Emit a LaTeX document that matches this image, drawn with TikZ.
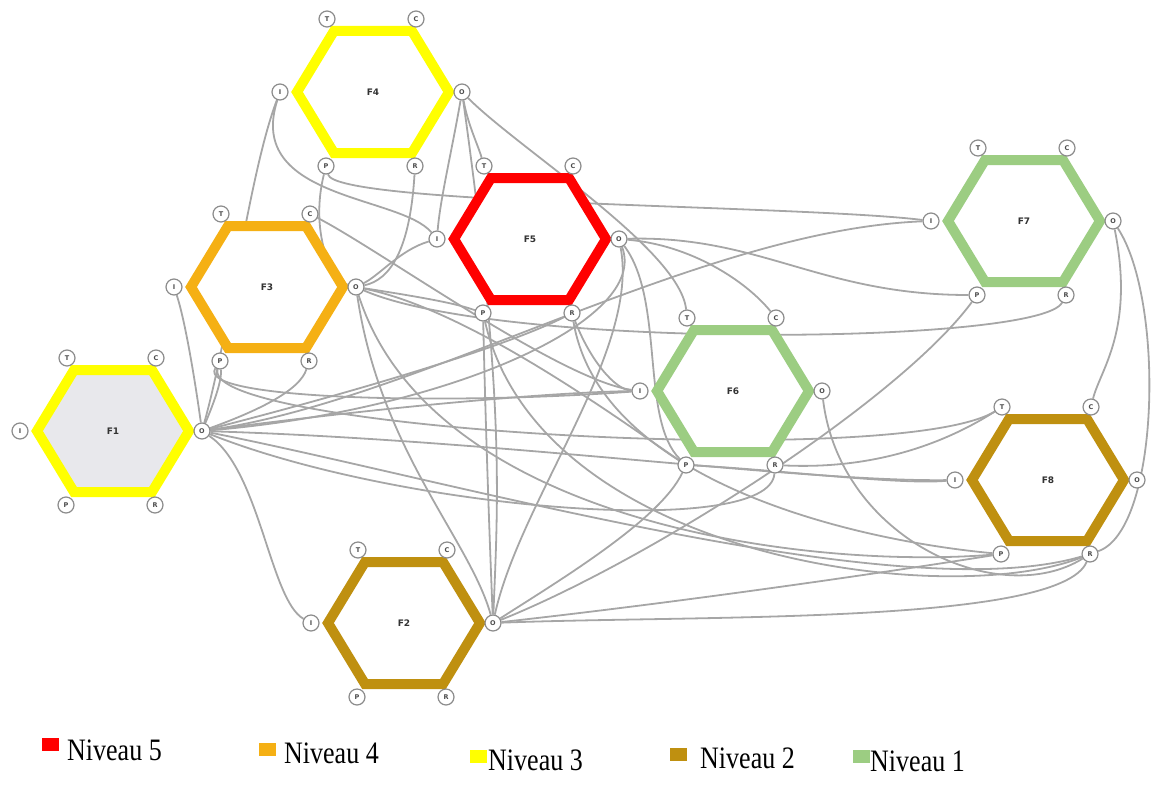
\documentclass[tikz,border=0pt]{standalone}
\usepackage{fontspec}
\setmainfont{Liberation Serif}
\setsansfont{DejaVu Sans}
\usetikzlibrary{calc}
\definecolor{lvlfive}{HTML}{FF0000}
\definecolor{lvlfour}{HTML}{F5B014}
\definecolor{lvlthree}{HTML}{FFFF00}
\definecolor{lvltwo}{HTML}{BF9010}
\definecolor{lvlone}{HTML}{9CCD82}
\definecolor{linkgray}{HTML}{A6A6A6}
\definecolor{portgray}{HTML}{8C8C8C}
\definecolor{hexfill}{HTML}{E8E8EC}
\pgfdeclarelayer{links}
\pgfsetlayers{links,main}

% one FRAM function: hexagon, label and its six aspects
\newcommand{\framfn}[5]{% name, x, y, colour, fill
  \draw[hexline, draw=#4, fill=#5, shift={(#2,#3)}]
    (-76,0) -- (-39,-61) -- (39,-61) -- (76,0) -- (39,61) -- (-39,61) -- cycle;
  \node[hexlabel] (#1) at (#2,#3) {#1};
  \node[port] (#1T) at ({#2-46},{#3-73}) {T};
  \node[port] (#1C) at ({#2+43},{#3-73}) {C};
  \node[port] (#1I) at ({#2-93},{#3}) {I};
  \node[port] (#1O) at ({#2+89},{#3}) {O};
  \node[port] (#1P) at ({#2-47},{#3+74}) {P};
  \node[port] (#1R) at ({#2+42},{#3+74}) {R};
}
% legend caption, set a little taller than wide
\newcommand{\legcap}[1]{\scalebox{1}[1.2]{#1}}

\begin{document}
\begin{tikzpicture}[x=1pt,y=-1pt,
  link/.style={draw=linkgray, line width=1.8pt},
  port/.style={circle, draw=portgray, fill=white, line width=1.2pt,
    minimum size=16pt, inner sep=0pt,
    font=\sffamily\bfseries\fontsize{6.5}{6.5}\selectfont, text=black!70},
  hexlabel/.style={font=\sffamily\bfseries\fontsize{9}{9}\selectfont, text=black!80},
  hexline/.style={line width=10pt, line join=miter},
  legbox/.style={minimum width=17pt, minimum height=13pt, inner sep=0pt},
  legtext/.style={font=\fontsize{26}{26}\selectfont, anchor=base west, inner sep=0pt}
]
\useasboundingbox (0,0) rectangle (1155,784);

% functions
\framfn{F1}{113}{431}{lvlthree}{hexfill}
\framfn{F2}{404}{623}{lvltwo}{white}
\framfn{F3}{267}{287}{lvlfour}{white}
\framfn{F4}{373}{92}{lvlthree}{white}
\framfn{F5}{530}{239}{lvlfive}{white}
\framfn{F6}{733}{391}{lvlone}{white}
\framfn{F7}{1024}{221}{lvlone}{white}
\framfn{F8}{1048}{480}{lvltwo}{white}

% couplings between aspects
\begin{pgfonlayer}{links}
\draw[link] (F4I) .. controls (250,170) and (230,330) .. (F1O);
\draw[link] (F4I) .. controls (245,200) and (400,195) .. (F5I);
\draw[link] (F4P) .. controls (335,205) and (800,205) .. (F7I);
\draw[link] (F4P) .. controls (310,230) and (330,280) .. (F3O);
\draw[link] (F4R) .. controls (410,250) and (390,280) .. (F3O);
\draw[link] (F4O) .. controls (452,150) and (440,200) .. (F5I);
\draw[link] (F4O) .. controls (468,125) and (478,145) .. (F5T);
\draw[link] (F4O) .. controls (505,400) and (498,500) .. (F2O);
\draw[link] (F4O) .. controls (520,150) and (680,250) .. (F6T);
\draw[link] (F3C) .. controls (380,250) and (560,380) .. (F6I);
\draw[link] (F5I) .. controls (400,250) and (380,275) .. (F3O);
\draw[link] (F3O) .. controls (500,350) and (1040,345) .. (F7R);
\draw[link] (F3O) .. controls (380,450) and (470,540) .. (F2O);
\draw[link] (F3O) .. controls (430,520) and (800,570) .. (F8P);
\draw[link] (F3O) .. controls (440,300) and (460,305) .. (F5P);
\draw[link] (F3O) .. controls (470,310) and (620,420) .. (F6P);
\draw[link] (F1O) .. controls (195,380) and (185,320) .. (F3I);
\draw[link] (F1O) .. controls (215,400) and (222,380) .. (F3P);
\draw[link] (F1O) .. controls (260,410) and (300,390) .. (F3R);
\draw[link] (F1O) .. controls (400,405) and (560,392) .. (F6I);
\draw[link] (F1O) .. controls (500,440) and (800,482) .. (F8I);
\draw[link] (F1O) .. controls (260,470) and (270,600) .. (F2I);
\draw[link] (F1O) .. controls (450,410) and (650,320) .. (F5O);
\draw[link] (F1O) .. controls (420,400) and (700,230) .. (F7I);
\draw[link] (F1O) .. controls (400,380) and (520,340) .. (F5R);
\draw[link] (F1O) .. controls (450,480) and (900,610) .. (F8R);
\draw[link] (F3P) .. controls (195,400) and (450,405) .. (F6I);
\draw[link] (F3P) .. controls (200,430) and (900,470) .. (F8T);
\draw[link] (F6R) .. controls (770,540) and (400,510) .. (F1O);
\draw[link] (F2O) .. controls (488,500) and (485,400) .. (F5P);
\draw[link] (F2O) .. controls (560,580) and (660,520) .. (F6P);
\draw[link] (F2O) .. controls (650,560) and (900,400) .. (F7P);
\draw[link] (F2O) .. controls (700,600) and (900,570) .. (F8P);
\draw[link] (F2O) .. controls (700,615) and (1060,625) .. (F8R);
\draw[link] (F7O) .. controls (1165,300) and (1160,530) .. (F8R);
\draw[link] (F7O) .. controls (1135,330) and (1100,370) .. (F8C);
\draw[link] (F5O) .. controls (760,235) and (820,295) .. (F7P);
\draw[link] (F5O) .. controls (690,245) and (745,280) .. (F6C);
\draw[link] (F5O) .. controls (665,300) and (640,420) .. (F6P);
\draw[link] (F5O) .. controls (640,350) and (520,500) .. (F2O);
\draw[link] (F5R) .. controls (590,360) and (615,390) .. (F6I);
\draw[link] (F5P) .. controls (540,560) and (950,610) .. (F8R);
\draw[link] (F5R) .. controls (600,480) and (850,540) .. (F8P);
\draw[link] (F6O) .. controls (840,540) and (1000,610) .. (F8R);
\draw[link] (F6P) .. controls (780,470) and (900,485) .. (F8I);
\draw[link] (F6R) .. controls (880,470) and (950,440) .. (F8T);
\end{pgfonlayer}

% legend
\node[legbox, fill=lvlfive]  (k5) at (50,744) {};
\node[legtext] (n5) at (67,760) {\legcap{Niveau 5}};
\node[legbox, fill=lvlfour]  (k4) at (267,749) {};
\node[legtext] (n4) at (284,763) {\legcap{Niveau 4}};
\node[legbox, fill=lvlthree] (k3) at (478,756) {};
\node[legtext] (n3) at (488,770) {\legcap{Niveau 3}};
\node[legbox, fill=lvltwo]   (k2) at (678,754) {};
\node[legtext] (n2) at (700,768) {\legcap{Niveau 2}};
\node[legbox, fill=lvlone]   (k1) at (861,756) {};
\node[legtext] (n1) at (870,771) {\legcap{Niveau 1}};
\end{tikzpicture}
\end{document}
